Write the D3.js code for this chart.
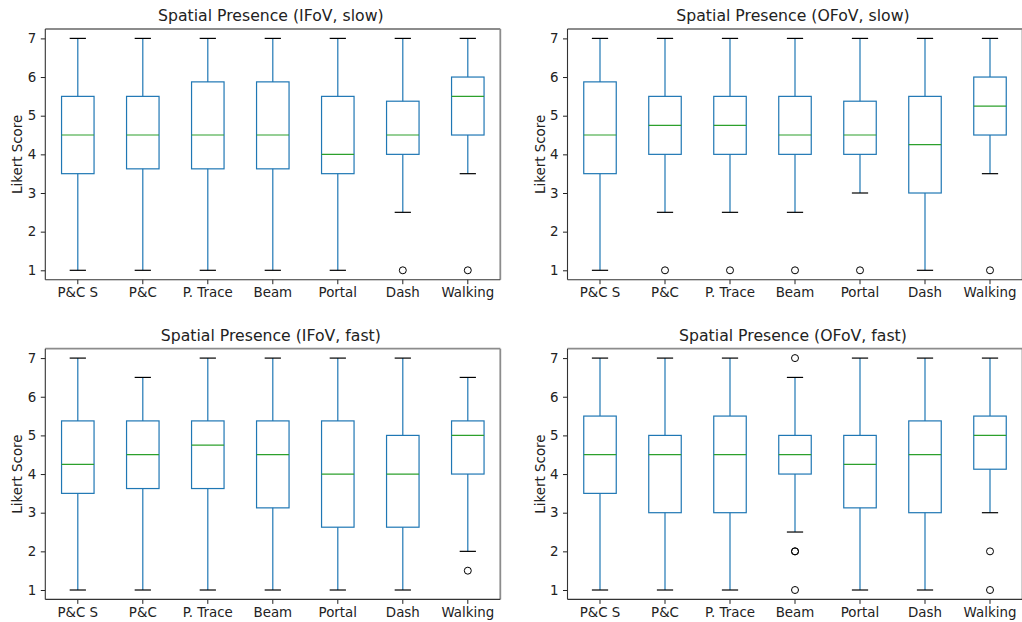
<!DOCTYPE html>
<html>
<head>
<meta charset="utf-8">
<script src="https://cdn.jsdelivr.net/npm/d3@7"></script>
<style>
  html, body { margin: 0; padding: 0; background: #fff; }
  svg { display: block; font-family: "DejaVu Sans", sans-serif; }
</style>
</head>
<body>
<svg id="chart" width="1022" height="622"></svg>
<script>
// Categories along the x axis (one box per locomotion technique)
const categories = ["P&C S", "P&C", "P. Trace", "Beam", "Portal", "Dash", "Walking"];
const yTicks = [1, 2, 3, 4, 5, 6, 7];
const titles = [
  "Spatial Presence (IFoV, slow)",
  "Spatial Presence (OFoV, slow)",
  "Spatial Presence (IFoV, fast)",
  "Spatial Presence (OFoV, fast)"
];
const yLabel = "Likert Score";

// Box statistics per category: [lower whisker, Q1, median, Q3, upper whisker]
const ifovSlow = [
  [1, 3.5, 4.5, 5.5, 7],
  [1, 3.625, 4.5, 5.5, 7],
  [1, 3.625, 4.5, 5.875, 7],
  [1, 3.625, 4.5, 5.875, 7],
  [1, 3.5, 4.0, 5.5, 7],
  [2.5, 4.0, 4.5, 5.375, 7],
  [3.5, 4.5, 5.5, 6.0, 7]
];
const ifovSlowOutliers = [[], [], [], [], [], [1], [1]];

const ofovSlow = [
  [1, 3.5, 4.5, 5.875, 7],
  [2.5, 4.0, 4.75, 5.5, 7],
  [2.5, 4.0, 4.75, 5.5, 7],
  [2.5, 4.0, 4.5, 5.5, 7],
  [3, 4.0, 4.5, 5.375, 7],
  [1, 3.0, 4.25, 5.5, 7],
  [3.5, 4.5, 5.25, 6.0, 7]
];
const ofovSlowOutliers = [[], [1], [1], [1], [1], [], [1]];

const ifovFast = [
  [1, 3.5, 4.25, 5.375, 7],
  [1, 3.625, 4.5, 5.375, 6.5],
  [1, 3.625, 4.75, 5.375, 7],
  [1, 3.125, 4.5, 5.375, 7],
  [1, 2.625, 4.0, 5.375, 7],
  [1, 2.625, 4.0, 5.0, 7],
  [2, 4.0, 5.0, 5.375, 6.5]
];
const ifovFastOutliers = [[], [], [], [], [], [], [1.5]];

const ofovFast = [
  [1, 3.5, 4.5, 5.5, 7],
  [1, 3.0, 4.5, 5.0, 7],
  [1, 3.0, 4.5, 5.5, 7],
  [2.5, 4.0, 4.5, 5.0, 6.5],
  [1, 3.125, 4.25, 5.0, 7],
  [1, 3.0, 4.5, 5.375, 7],
  [3, 4.125, 5.0, 5.5, 7]
];
const ofovFastOutliers = [[], [], [], [7, 2, 2, 1], [], [], [2, 1]];

const panelStats = [ifovSlow, ofovSlow, ifovFast, ofovFast];
const panelOutliers = [ifovSlowOutliers, ofovSlowOutliers, ifovFastOutliers, ofovFastOutliers];

// Layout of the 2x2 grid of axes
const axW = 455, axH = 250.7;
const colX = [45.3, 567.5];
const rowY = [29, 348.7];

const boxColor = "#1f77b4";
const medianColor = "#2ca02c";
const capColor = "#000";
const fontSize = 13.4;

const svg = d3.select("#chart");

const x = d3.scaleBand().domain(categories).range([0, axW]).padding(0);
const y = d3.scaleLinear().domain([0.757, 7.243]).range([axH, 0]);
const boxW = x.bandwidth() * 0.5;
const capW = x.bandwidth() * 0.25;
const cx = c => x(c) + x.bandwidth() / 2;

panelStats.forEach((stats, p) => {
  const g = svg.append("g")
    .attr("transform", `translate(${colX[p % 2]},${rowY[Math.floor(p / 2)]})`);

  // Axes
  const yAxis = d3.axisLeft(y).tickValues(yTicks).tickSize(4.5).tickPadding(4.5)
    .tickFormat(d3.format("d"));
  const xAxis = d3.axisBottom(x).tickSize(4.5).tickPadding(3.1);

  const ya = g.append("g").call(yAxis);
  const xa = g.append("g").attr("transform", `translate(0,${axH})`).call(xAxis);
  [ya, xa].forEach(a => {
    a.select(".domain").remove();
    a.selectAll(".tick line").attr("stroke", "#222").attr("stroke-width", 1);
    a.selectAll(".tick text").attr("fill", "#222")
      .style("font-size", fontSize + "px").style("font-family", "DejaVu Sans");
  });

  const boxes = g.append("g").selectAll("g.box")
    .data(categories.map((c, i) => ({ c, s: stats[i], o: panelOutliers[p][i] })))
    .join("g").attr("class", "box");

  // Whiskers
  boxes.append("line")
    .attr("x1", d => cx(d.c)).attr("x2", d => cx(d.c))
    .attr("y1", d => y(d.s[0])).attr("y2", d => y(d.s[1]))
    .attr("stroke", boxColor).attr("stroke-width", 1.2);
  boxes.append("line")
    .attr("x1", d => cx(d.c)).attr("x2", d => cx(d.c))
    .attr("y1", d => y(d.s[3])).attr("y2", d => y(d.s[4]))
    .attr("stroke", boxColor).attr("stroke-width", 1.2);

  // Caps
  boxes.selectAll("line.cap")
    .data(d => [[d.c, d.s[0]], [d.c, d.s[4]]])
    .join("line").attr("class", "cap")
    .attr("x1", d => cx(d[0]) - capW / 2).attr("x2", d => cx(d[0]) + capW / 2)
    .attr("y1", d => y(d[1])).attr("y2", d => y(d[1]))
    .attr("stroke", capColor).attr("stroke-width", 1.2);

  // Box
  boxes.append("rect")
    .attr("x", d => cx(d.c) - boxW / 2)
    .attr("width", boxW)
    .attr("y", d => y(d.s[3]))
    .attr("height", d => y(d.s[1]) - y(d.s[3]))
    .attr("fill", "none").attr("stroke", boxColor).attr("stroke-width", 1.2);

  // Median
  boxes.append("line")
    .attr("x1", d => cx(d.c) - boxW / 2).attr("x2", d => cx(d.c) + boxW / 2)
    .attr("y1", d => y(d.s[2])).attr("y2", d => y(d.s[2]))
    .attr("stroke", medianColor).attr("stroke-width", 1.2);

  // Outliers
  boxes.selectAll("circle")
    .data(d => d.o.map(v => [d.c, v]))
    .join("circle")
    .attr("cx", d => cx(d[0])).attr("cy", d => y(d[1]))
    .attr("r", 3.5)
    .attr("fill", "none").attr("stroke", "#000").attr("stroke-width", 1);

  // Frame: lighter top/right spines, darker left/bottom
  g.append("line").attr("x1", 0).attr("x2", axW).attr("y1", 0).attr("y2", 0)
    .attr("stroke", "#8c8c8c").attr("stroke-width", 1.8);
  g.append("line").attr("x1", axW).attr("x2", axW).attr("y1", 0).attr("y2", axH)
    .attr("stroke", "#8c8c8c").attr("stroke-width", 1.8);
  g.append("line").attr("x1", 0).attr("x2", 0).attr("y1", 0).attr("y2", axH)
    .attr("stroke", "#333").attr("stroke-width", 1.1);
  g.append("line").attr("x1", 0).attr("x2", axW).attr("y1", axH).attr("y2", axH)
    .attr("stroke", "#333").attr("stroke-width", 1.1);

  // Title
  g.append("text")
    .attr("x", axW / 2 - 2).attr("y", -8)
    .attr("text-anchor", "middle")
    .attr("fill", "#222")
    .style("font-size", "15.7px")
    .text(titles[p]);

  // Y label
  g.append("text")
    .attr("transform", `translate(-27.6,${axH / 2}) rotate(-90)`)
    .attr("text-anchor", "middle")
    .attr("dy", "0.35em")
    .attr("fill", "#222")
    .style("font-size", fontSize + "px")
    .text(yLabel);
});
</script>
</body>
</html>
